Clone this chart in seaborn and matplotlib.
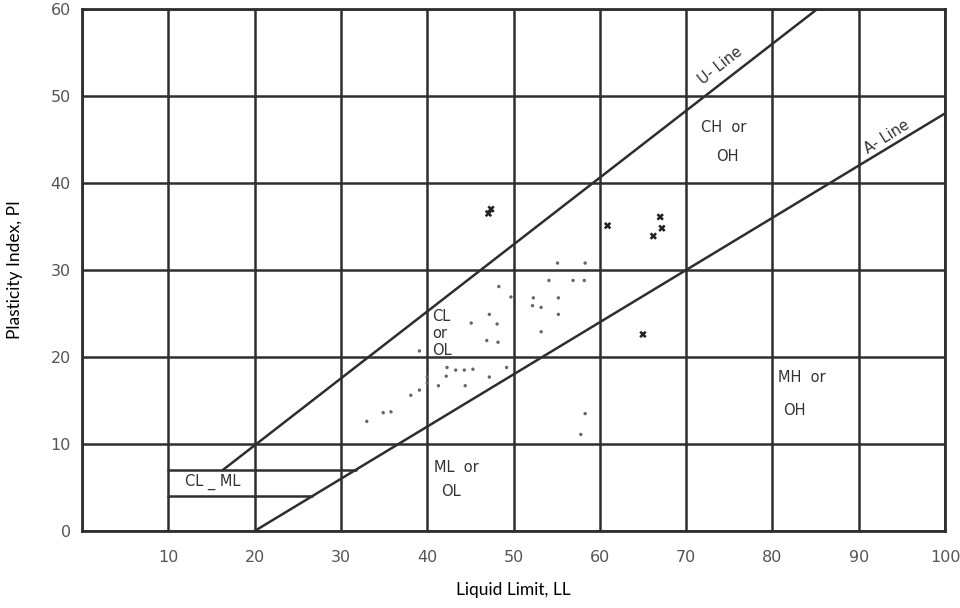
import numpy as np
import pandas as pd
import seaborn as sns
import matplotlib
matplotlib.use("Agg")
import matplotlib.pyplot as plt

sns.set_theme(style="white")
plt.rcParams['font.family'] = ['Lato', 'DejaVu Sans']

# soil samples (LL, PI)
dot_ll = [48.3, 49.7, 47.2, 45.1, 48.1, 46.9, 48.2, 39.1, 42.3, 43.3, 44.3, 45.3,
          49.2, 42.2, 47.2, 40.0, 40.0, 41.3, 39.1, 44.4, 38.1, 35.8, 34.9, 33.0,
          55.1, 58.3, 54.1, 56.9, 58.2, 52.3, 55.2, 52.2, 53.2, 55.2, 53.2, 58.3, 57.8]
dot_pi = [28.1, 26.9, 24.9, 23.9, 23.8, 21.9, 21.7, 20.7, 18.8, 18.5, 18.5, 18.6,
          18.8, 17.8, 17.7, 17.7, 17.0, 16.7, 16.2, 16.7, 15.6, 13.7, 13.6, 12.6,
          30.8, 30.8, 28.8, 28.8, 28.8, 26.8, 26.8, 25.9, 25.7, 24.9, 22.9, 13.5, 11.1]

# bolder cross markers
cross_ll = [47.4, 47.1, 60.9, 67.0, 67.2, 66.2, 65.0]
cross_pi = [37.0, 36.5, 35.1, 36.1, 34.8, 33.9, 22.6]

# chart lines as drawn
u_line_ll = [16.3, 85.2]
u_line_pi = [7, 60]
a_line_ll = [20, 100]
a_line_pi = [0, 48]
clml_top_ll = [10, 31.7]
clml_top_pi = [7, 7]
clml_bot_ll = [10, 26.7]
clml_bot_pi = [4, 4]

x_ticks = list(range(0, 101, 10))
x_labels = [''] + [str(v) for v in x_ticks[1:]]
y_ticks = list(range(0, 61, 10))

ink = '#2e2e2e'

fig = plt.figure(figsize=(9.6, 6.08), dpi=100)
ax = fig.add_axes([0.0854, 0.1266, 0.8990, 0.8586])

for lx, ly in [(u_line_ll, u_line_pi), (a_line_ll, a_line_pi),
               (clml_top_ll, clml_top_pi), (clml_bot_ll, clml_bot_pi)]:
    sns.lineplot(x=lx, y=ly, ax=ax, color=ink, linewidth=1.8, legend=False)

dots = pd.DataFrame({'LL': dot_ll, 'PI': dot_pi})
crosses = pd.DataFrame({'LL': cross_ll, 'PI': cross_pi})
sns.scatterplot(data=dots, x='LL', y='PI', ax=ax, color='#666666', s=6,
                edgecolor='none', zorder=4)
sns.scatterplot(data=crosses, x='LL', y='PI', ax=ax, color='#222222', marker='X',
                s=28, edgecolor='none', zorder=4)

ax.set_xlim(0, 100)
ax.set_ylim(0, 60)
ax.set_xticks(x_ticks)
ax.set_xticklabels(x_labels)
ax.set_yticks(y_ticks)
ax.grid(True, color=ink, linewidth=1.8)
ax.set_axisbelow(True)
for sp in ax.spines.values():
    sp.set_color(ink)
    sp.set_linewidth(2)
ax.tick_params(axis='both', length=0, labelsize=11.5, labelcolor='#555555')
ax.tick_params(axis='x', pad=14)
ax.tick_params(axis='y', pad=8)
for lab in ax.get_xticklabels() + ax.get_yticklabels():
    lab.set_family('DejaVu Sans')

ax.set_xlabel('Liquid Limit, LL', fontsize=12.5, color='black', labelpad=12)
ax.set_ylabel('Plasticity Index, PI', fontsize=12.5, color='black', labelpad=20)

tkw = dict(fontsize=10.5, color='#333333', family='DejaVu Sans')
ax.text(74, 53.5, 'U- Line', rotation=38, ha='center', va='center', **tkw)
ax.text(93.3, 45.3, 'A- Line', rotation=32, ha='center', va='center', **tkw)
ax.text(74.3, 46.4, 'CH  or', ha='center', va='center', **tkw)
ax.text(74.8, 43.0, 'OH', ha='center', va='center', **tkw)
ax.text(83.4, 17.6, 'MH  or', ha='center', va='center', **tkw)
ax.text(82.6, 13.9, 'OH', ha='center', va='center', **tkw)
ax.text(43.4, 7.3, 'ML  or', ha='center', va='center', **tkw)
ax.text(42.8, 4.6, 'OL', ha='center', va='center', **tkw)
ax.text(40.6, 24.6, 'CL', ha='left', va='center', **tkw)
ax.text(40.6, 22.7, 'or', ha='left', va='center', **tkw)
ax.text(40.6, 20.8, 'OL', ha='left', va='center', **tkw)
ax.text(15.2, 5.6, 'CL _ ML', ha='center', va='center', **tkw)

fig.savefig('out.png', dpi=100)
